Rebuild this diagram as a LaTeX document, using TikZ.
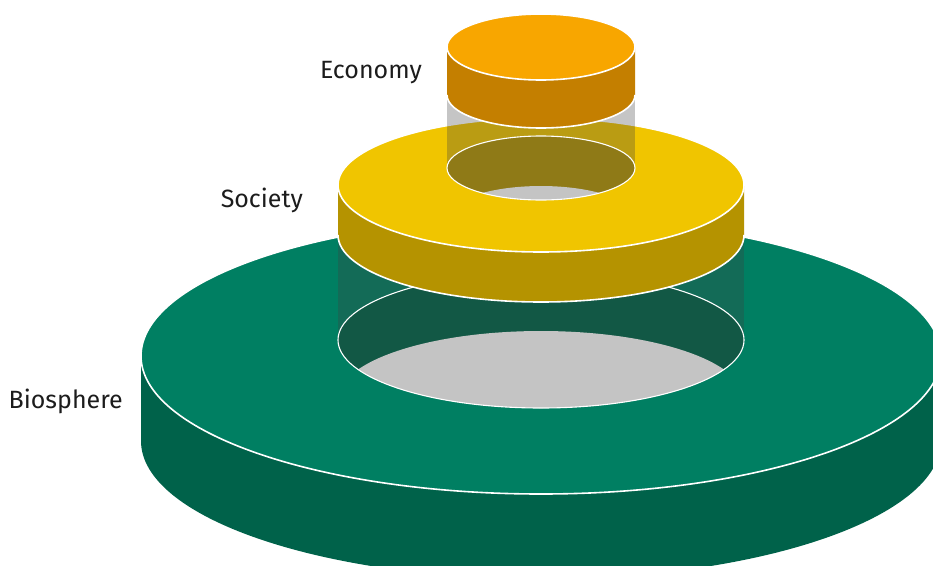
\documentclass[tikz,border=0pt]{standalone}
\usepackage{fontspec}
\setmainfont{Fira Sans}
\usepackage{tikz}

\definecolor{ecotop}{HTML}{F8A600}
\definecolor{ecoside}{HTML}{C47F00}
\definecolor{soctop}{HTML}{F0C500}
\definecolor{socside}{HTML}{B59300}
\definecolor{sochole}{HTML}{8F7A17}
\definecolor{biotop}{HTML}{007F62}
\definecolor{bioside}{HTML}{00624A}
\definecolor{biohole}{HTML}{125845}
\definecolor{floorgrey}{HTML}{C4C4C4}
\definecolor{labeltext}{HTML}{1C1C1C}

\begin{document}
\begin{tikzpicture}[x=1pt, y=-1pt,
	rim/.style={draw=white, line width=1.6pt},
	holerim/.style={draw=white, line width=1.1pt},
	glass/.style={fill=black!75, fill opacity=0.3},
	layerlabel/.style={anchor=base east, inner sep=0pt, text=labeltext, font=\fontsize{25}{29}\selectfont}]
	\useasboundingbox (0, 0) rectangle (933, 565);
	\def \cx{541} % common axis
	% biosphere
	\def \brx{400}
	\def \bry{138}
	\def \btop{356}
	\def \bthick{85}
	% society
	\def \srx{203}
	\def \sry{67}
	\def \stop{185}
	\def \sthick{50}
	% economy
	\def \erx{94}
	\def \ery{33}
	\def \etop{47}
	\def \ethick{48}
	%biosphere ring
	\fill[bioside] (\cx-\brx, \btop) -- (\cx-\brx, \btop+\bthick)
		arc[start angle=180, end angle=0, x radius=\brx, y radius=\bry] -- (\cx+\brx, \btop) -- cycle;
	\fill[biotop] (\cx, \btop) ellipse [x radius=\brx, y radius=\bry];
	\draw[rim] (\cx, \btop) ellipse [x radius=\brx, y radius=\bry];
	% glass below society
	\fill[glass] (\cx-\srx, \btop-16) rectangle (\cx+\srx, \stop+\sthick);
	%biosphere hole
	\fill[biohole] (\cx, \btop-16) ellipse [x radius=\srx, y radius=68];
	\begin{scope}
		\clip (\cx, \btop-16) ellipse [x radius=\srx, y radius=68];
		\fill[floorgrey] (\cx, \btop+43) ellipse [x radius=\srx, y radius=68];
	\end{scope}
	\draw[holerim] (\cx, \btop-16) ellipse [x radius=\srx, y radius=68];
	%society ring
	\fill[socside] (\cx-\srx, \stop) -- (\cx-\srx, \stop+\sthick)
		arc[start angle=180, end angle=0, x radius=\srx, y radius=\sry] -- (\cx+\srx, \stop) -- cycle;
	\draw[rim] (\cx-\srx, \stop+\sthick) arc[start angle=180, end angle=0, x radius=\srx, y radius=\sry];
	\fill[soctop] (\cx, \stop) ellipse [x radius=\srx, y radius=\sry];
	\draw[rim] (\cx, \stop) ellipse [x radius=\srx, y radius=\sry];
	% glass below economy
	\fill[glass] (\cx-\erx, \etop+\ethick) rectangle (\cx+\erx, 168);
	%society hole
	\fill[sochole] (\cx, 168) ellipse [x radius=\erx, y radius=32];
	\begin{scope}
		\clip (\cx, 168) ellipse [x radius=\erx, y radius=32];
		\fill[floorgrey] (\cx, 218) ellipse [x radius=\erx, y radius=32];
	\end{scope}
	\draw[holerim] (\cx, 168) ellipse [x radius=\erx, y radius=32];
	%economy cylinder
	\fill[ecoside] (\cx-\erx, \etop) -- (\cx-\erx, \etop+\ethick)
		arc[start angle=180, end angle=0, x radius=\erx, y radius=\ery] -- (\cx+\erx, \etop) -- cycle;
	\draw[rim] (\cx-\erx, \etop+\ethick) arc[start angle=180, end angle=0, x radius=\erx, y radius=\ery];
	\fill[ecotop] (\cx, \etop) ellipse [x radius=\erx, y radius=\ery];
	\draw[rim] (\cx, \etop) ellipse [x radius=\erx, y radius=\ery];
	% labels
	\node[layerlabel] (economy) at (422, 78) {Economy};
	\node[layerlabel] (society) at (303, 207) {Society};
	\node[layerlabel] (biosphere) at (123, 408) {Biosphere};
\end{tikzpicture}
\end{document}
